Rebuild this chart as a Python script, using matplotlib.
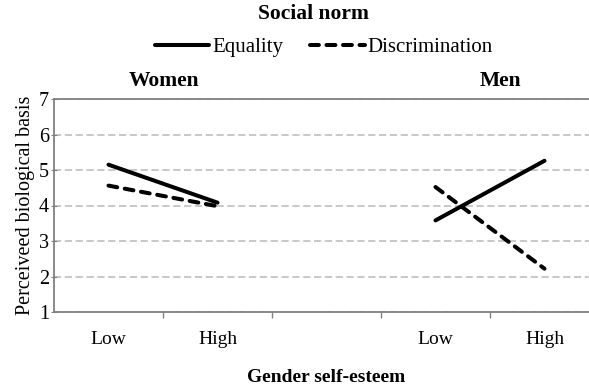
import matplotlib
matplotlib.use("Agg")
import matplotlib.pyplot as plt

# data
levels = ["Low", "High"]
women_equality = [5.15, 4.08]
women_discrimination = [4.56, 3.98]
men_equality = [3.58, 5.26]
men_discrimination = [4.52, 2.22]

plt.rcParams['font.family'] = ['Liberation Serif', 'DejaVu Serif']

fig = plt.figure(figsize=(5.89, 3.9), dpi=100)
ax = fig.add_axes([54 / 589, 78 / 390, 545 / 589, 213 / 390])

women_x = [0, 1]
men_x = [3, 4]
line_style = dict(color="black", lw=2.9, solid_capstyle="round", dash_capstyle="round")
dash = (0, (2.2, 1.9))
ax.plot(women_x, women_equality, "-", label="Equality", **line_style)
ax.plot(women_x, women_discrimination, ls=dash, label="Discrimination", **line_style)
ax.plot(men_x, men_equality, "-", **line_style)
ax.plot(men_x, men_discrimination, ls=dash, **line_style)

ax.set_xlim(-0.5, 4.5)
ax.set_ylim(1, 7)
ax.set_yticks(range(1, 8))
ax.yaxis.grid(True, color="#c4c4c4", ls=(0, (4, 2)), lw=1.3)
ax.set_axisbelow(True)

# category labels between tick marks
ax.set_xticks([0.5, 1.5, 2.5, 3.5])
ax.set_xticklabels([])
ax.set_xticks([0, 1, 3, 4], minor=True)
ax.set_xticklabels(levels + levels, minor=True)
ax.tick_params(axis="x", which="minor", length=0, labelsize=14, pad=14)
ax.tick_params(axis="x", which="major", length=4, color="#808080", width=1)
ax.tick_params(axis="y", direction="inout", length=5, color="#808080", labelsize=14.5, pad=1)

for side in ["left", "bottom", "top"]:
    ax.spines[side].set_color("#808080")
    ax.spines[side].set_linewidth(1.3)
ax.spines["right"].set_visible(False)

ax.set_ylabel("Perceiveed biological basis", fontsize=14.5, labelpad=3)
ax.set_xlabel("Gender self-esteem", fontsize=14, fontweight="bold", labelpad=15)

ax.text(0.51, 7.22, "Women", fontsize=15.5, fontweight="bold", ha="center", va="bottom")
ax.text(3.6, 7.22, "Men", fontsize=15.5, fontweight="bold", ha="center", va="bottom")

fig.text(313 / 589, 1 - 14 / 390, "Social norm", fontsize=15.5, fontweight="bold",
         ha="center", va="center")
fig.legend(loc="center", bbox_to_anchor=(324 / 589, 1 - 47 / 390), ncol=2, frameon=False,
           fontsize=15, handlelength=2.6, handletextpad=0.15, columnspacing=1.3)

fig.savefig("out.png", dpi=100)
